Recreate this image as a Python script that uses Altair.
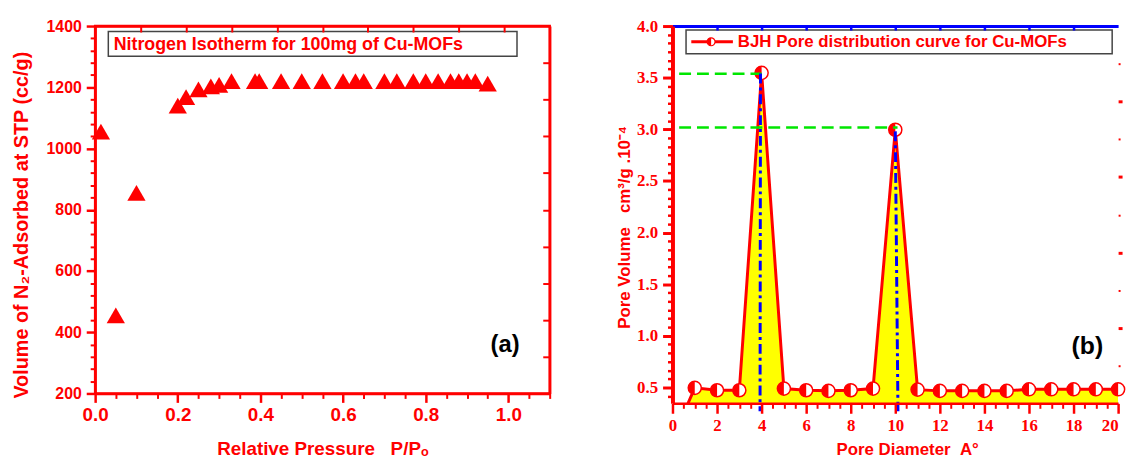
import altair as alt
import pandas as pd

RED = "#ff0000"
BLUE = "#0000ff"
GREEN = "#00e600"
YELLOW = "#ffff00"
SANS = "Liberation Sans"
SERIF = "Liberation Serif"
NB = "\u00a0"

# ---------------- data: panel (a) ----------------
rel_pressure = [0.014, 0.05, 0.10, 0.20, 0.22, 0.25, 0.28, 0.30, 0.33,
                0.387, 0.397, 0.45, 0.50, 0.55, 0.60, 0.63, 0.65, 0.70,
                0.73, 0.77, 0.80, 0.83, 0.86, 0.88, 0.90, 0.92, 0.95]
volume_ads = [1055, 455, 855, 1140, 1168, 1193, 1203, 1208, 1220,
              1220, 1220, 1220, 1220, 1220, 1220, 1220, 1220, 1220,
              1220, 1220, 1220, 1220, 1220, 1220, 1220, 1220, 1212]

# ---------------- data: panel (b) ----------------
pore_diameter = [0, 1, 2, 3, 4, 5, 6, 7, 8, 9, 10,
                 11, 12, 13, 14, 15, 16, 17, 18, 19, 20]
pore_volume = [0.0, 0.496, 0.473, 0.473, 3.547, 0.489, 0.473, 0.467, 0.473, 0.489, 2.996,
               0.479, 0.467, 0.467, 0.467, 0.467, 0.482, 0.482, 0.482, 0.482, 0.482]

# guide lines at the two peaks
guide_start = [0.3, 0.3]
guide_end = [4.0, 10.1]
guide_vol = [3.537, 3.018]
drop_top_x = [3.95, 10.0]
drop_bot_x = [3.93, 10.12]
drop_top_y = [3.54, 2.98]
drop_bot_y = [0.27, 0.27]

# tick labels
x_ticks_a = [0.0, 0.2, 0.4, 0.6, 0.8, 1.0]
y_ticks_a = [200, 400, 600, 800, 1000, 1200, 1400]
x_ticks_b = [0, 2, 4, 6, 8, 10, 12, 14, 16, 18, 20]
y_ticks_b = [0.5, 1.0, 1.5, 2.0, 2.5, 3.0, 3.5, 4.0]

# texts
legend_a = "Nitrogen Isotherm for 100mg of Cu-MOFs"
legend_b = "BJH Pore distribution curve for Cu-MOFs"
x_title_a = "Relative Pressure" + NB * 3 + "P/P\u2092"
y_title_a = "Volume of N\u2082-Adsorbed at STP (cc/g)"
x_title_b = "Pore Diameter" + NB * 2 + "A\u00b0"
y_title_b = "Pore Volume" + NB * 3 + "cm\u00b3/g .10\u207b\u2074"
tag_a = "(a)"
tag_b = "(b)"

# ---------------- layout ----------------
WA, HA = 459, 371
WB, HB = 450, 381
XA_DOM = [0, 1.1]
YA_DOM = [200, 1400]
XB_DOM = [0, 20]
YB_DOM = [0.346, 4.0]

df_a = pd.DataFrame({"p": rel_pressure, "v": volume_ads})
df_b = pd.DataFrame({"d": pore_diameter, "pv": pore_volume})
df_bm = df_b[df_b["d"] >= 1]
df_guides = pd.DataFrame({"x0": guide_start, "x1": guide_end, "gy": guide_vol})
df_drops = pd.DataFrame({"tx": drop_top_x, "bx": drop_bot_x, "ty": drop_top_y, "by": drop_bot_y})
one = pd.DataFrame({"k": [0]})

xs_a = alt.Scale(domain=XA_DOM, nice=False, zero=False)
ys_a = alt.Scale(domain=YA_DOM, nice=False, zero=False)
xs_b = alt.Scale(domain=XB_DOM, nice=False, zero=False)
ys_b = alt.Scale(domain=YB_DOM, nice=False, zero=False)

HALF_LEFT = "M0,-1A1,1,0,0,0,0,1Z"


def tick_axis(orient, values, size, color=RED, width=2, domain=False, dcolor=RED, dwidth=2.5, offset=0):
    kw = dict(orient=orient, values=values, labels=False, ticks=True, tickSize=size,
              tickWidth=width, tickColor=color, domain=domain, grid=False, title=None, zindex=1)
    if domain:
        kw.update(domainColor=dcolor, domainWidth=dwidth)
    if offset:
        kw.update(offset=offset)
    return alt.Axis(**kw)


# ---------------- panel (a) ----------------
xa_minor = [round(i * 0.05, 2) for i in range(0, 23) if i % 4 != 0]
ya_minor = [200 + 40 * i for i in range(0, 31) if i % 5 != 0]
xa_top = [round(XA_DOM[1] * k / 10, 4) for k in range(1, 10)]
ya_right = [YA_DOM[0] + (YA_DOM[1] - YA_DOM[0]) * k / 10 for k in range(1, 10)]

tri = alt.Chart(df_a).mark_point(shape="triangle-up", filled=True, color=RED, opacity=1, size=340).encode(
    x=alt.X("p:Q", scale=xs_a, axis=alt.Axis(
        orient="bottom", values=x_ticks_a, format=".1f", labelFlush=False,
        labelFont=SANS, labelFontSize=19, labelFontWeight="bold", labelColor=RED, labelPadding=3,
        tickSize=9, tickWidth=2.5, tickColor=RED, domainColor=RED, domainWidth=2.5, grid=False, zindex=1,
        title=x_title_a, titleFont=SANS, titleFontSize=19, titleFontWeight="bold", titleColor=RED,
        titleX=WA / 2, titleY=56, titleAlign="center", titleBaseline="middle")),
    y=alt.Y("v:Q", scale=ys_a, axis=alt.Axis(
        orient="left", values=y_ticks_a, format="d",
        labelFont=SANS, labelFontSize=16, labelFontWeight="bold", labelColor=RED, labelPadding=5,
        tickSize=9, tickWidth=2.5, tickColor=RED, domainColor=RED, domainWidth=2.5, grid=False, zindex=1,
        title=y_title_a, titleFont=SANS, titleFontSize=20, titleFontWeight="bold", titleColor=RED,
        titleX=-74.5, titleY=200.6, titleAlign="center", titleBaseline="middle", titleAngle=270)),
)

minor_a = alt.Chart(df_a).mark_point(opacity=0).encode(
    x=alt.X("p:Q", scale=xs_a, axis=tick_axis("bottom", xa_minor, 5)),
    y=alt.Y("v:Q", scale=ys_a, axis=tick_axis("left", ya_minor, 5)),
)

frame_a = alt.Chart(df_a).mark_point(opacity=0).encode(
    x=alt.X("p:Q", scale=xs_a, axis=tick_axis("bottom", xa_top, 6, domain=True, offset=-HA)),
    y=alt.Y("v:Q", scale=ys_a, axis=tick_axis("left", ya_right, 7, domain=True, offset=-WA)),
)

box_a = alt.Chart(one).mark_rect(fill="white", stroke="#444444", strokeWidth=1.5).encode(
    x=alt.value(13.3), x2=alt.value(426), y=alt.value(5.6), y2=alt.value(30.6))
text_a = alt.Chart(one).transform_calculate(t=f"'{legend_a}'").mark_text(
    align="left", baseline="middle", font=SANS, fontSize=18, fontWeight="bold", color=RED).encode(
    x=alt.value(18.7), y=alt.value(19), text="t:N")
tag_a_layer = alt.Chart(one).transform_calculate(t=f"'{tag_a}'").mark_text(
    align="center", baseline="middle", font=SANS, fontSize=24, fontWeight="bold", color="black").encode(
    x=alt.value(414), y=alt.value(322), text="t:N")

panel_a = alt.layer(frame_a, minor_a, tri, box_a, text_a, tag_a_layer).properties(
    width=WA, height=HA, view={"stroke": RED, "strokeWidth": 2.5}
).resolve_axis(x="independent", y="independent")

# ---------------- panel (b) ----------------
xb_minor = [i * 0.5 for i in range(0, 41) if i % 4 != 0]
yb_minor = [round(0.5 + k / 12, 4) for k in range(-1, 43) if k % 6 != 0]
xb_top = [2, 4, 6, 8, 10, 12, 14, 16, 18]
yb_right_major = [YB_DOM[0] + (YB_DOM[1] - YB_DOM[0]) * k / 10 for k in (2, 4, 6, 8)]
yb_right_minor = [YB_DOM[0] + (YB_DOM[1] - YB_DOM[0]) * k / 10 for k in (1, 3, 5, 7, 9)]

area_b = alt.Chart(df_b).mark_area(color=YELLOW, clip=True, opacity=1).encode(
    x=alt.X("d:Q", scale=xs_b, axis=alt.Axis(
        orient="bottom", values=x_ticks_b, format="d", labelFlush=False,
        labelAlign={"condition": {"test": "datum.value >= 20", "value": "right"}, "value": "center"},
        labelFont=SERIF, labelFontSize=17, labelFontWeight="bold", labelColor=RED, labelPadding=4,
        tickSize=10, tickWidth=2.5, tickColor=RED, domainColor=RED, domainWidth=2.5, grid=False, zindex=1,
        title=x_title_b, titleFont=SANS, titleFontSize=17, titleFontWeight="bold", titleColor=RED,
        titleX=237, titleY=47, titleAlign="center", titleBaseline="middle")),
    y=alt.Y("pv:Q", scale=ys_b, stack=None, axis=alt.Axis(
        orient="left", values=y_ticks_b, format=".1f",
        labelFont=SERIF, labelFontSize=17, labelFontWeight="bold", labelColor=RED, labelPadding=5,
        tickSize=10, tickWidth=3, tickColor=RED, domainColor=RED, domainWidth=4, grid=False, zindex=1,
        title=y_title_b, titleFont=SANS, titleFontSize=17, titleFontWeight="bold", titleColor=RED,
        titleX=-48, titleY=202.7, titleAlign="center", titleBaseline="middle", titleAngle=270)),
)

line_b = alt.Chart(df_b).mark_line(color=RED, strokeWidth=3, clip=True).encode(
    x=alt.X("d:Q", scale=xs_b, axis=None), y=alt.Y("pv:Q", scale=ys_b, axis=None))

mk_white = alt.Chart(df_bm).mark_point(shape="circle", filled=True, fill="white", stroke=RED,
                                        strokeWidth=1.5, size=175, opacity=1).encode(
    x=alt.X("d:Q", scale=xs_b, axis=None), y=alt.Y("pv:Q", scale=ys_b, axis=None))
mk_half = alt.Chart(df_bm).mark_point(shape=HALF_LEFT, filled=True, color=RED, size=175, opacity=1).encode(
    x=alt.X("d:Q", scale=xs_b, axis=None), y=alt.Y("pv:Q", scale=ys_b, axis=None))

guides = alt.Chart(df_guides).mark_rule(color=GREEN, strokeWidth=2.5, strokeDash=[12, 6]).encode(
    x=alt.X("x0:Q", scale=xs_b, axis=None), x2="x1:Q", y=alt.Y("gy:Q", scale=ys_b, axis=None))

drops = alt.Chart(df_drops).mark_rule(color=BLUE, strokeWidth=3, strokeDash=[10, 4, 3, 4]).encode(
    x=alt.X("tx:Q", scale=xs_b, axis=None), x2="bx:Q",
    y=alt.Y("ty:Q", scale=ys_b, axis=None), y2="by:Q")

minor_b = alt.Chart(df_b).mark_point(opacity=0).encode(
    x=alt.X("d:Q", scale=xs_b, axis=tick_axis("bottom", xb_minor, 5)),
    y=alt.Y("pv:Q", scale=ys_b, axis=tick_axis("left", yb_minor, 5, width=2.5)),
)
frame_b = alt.Chart(df_b).mark_point(opacity=0).encode(
    x=alt.X("d:Q", scale=xs_b, axis=tick_axis("bottom", xb_top, 4, color=BLUE, width=2.5,
                                               domain=True, dcolor=BLUE, dwidth=3, offset=-HB)),
    y=alt.Y("pv:Q", scale=ys_b, axis=tick_axis("right", yb_right_major, 4, width=3)),
)
frame_b2 = alt.Chart(df_b).mark_point(opacity=0).encode(
    y=alt.Y("pv:Q", scale=ys_b, axis=tick_axis("right", yb_right_minor, 2, width=2)),
)

box_b = alt.Chart(one).mark_rect(fill="white", stroke="#444444", strokeWidth=1.5).encode(
    x=alt.value(13.7), x2=alt.value(444), y=alt.value(3.9), y2=alt.value(27.9))
leg_line = alt.Chart(one).mark_rule(color=RED, strokeWidth=3).encode(
    x=alt.value(19), x2=alt.value(61), y=alt.value(15.9))
leg_white = alt.Chart(one).mark_point(shape="circle", filled=True, fill="white", stroke=RED,
                                      strokeWidth=1.2, size=64, opacity=1).encode(
    x=alt.value(39), y=alt.value(15.9))
leg_half = alt.Chart(one).mark_point(shape=HALF_LEFT, filled=True, color=RED, size=64, opacity=1).encode(
    x=alt.value(39), y=alt.value(15.9))
text_b = alt.Chart(one).transform_calculate(t=f"'{legend_b}'").mark_text(
    align="left", baseline="middle", font=SANS, fontSize=17, fontWeight="bold", color=RED).encode(
    x=alt.value(66), y=alt.value(15.9), text="t:N")
tag_b_layer = alt.Chart(one).transform_calculate(t=f"'{tag_b}'").mark_text(
    align="center", baseline="middle", font=SANS, fontSize=25, fontWeight="bold", color="black").encode(
    x=alt.value(419), y=alt.value(322.7), text="t:N")

panel_b = alt.layer(area_b, minor_b, frame_b, frame_b2, line_b, mk_white, mk_half, guides, drops,
                    box_b, leg_line, leg_white, leg_half, text_b, tag_b_layer).properties(
    width=WB, height=HB).resolve_axis(x="independent", y="independent")

chart = alt.hconcat(panel_a, panel_b, spacing=63).properties(
    padding={"left": 2, "top": 6, "right": 0, "bottom": 0},
    background="white",
).configure_view(stroke="transparent")

chart.save("out.html", embed_options={"renderer": "svg", "actions": False})
